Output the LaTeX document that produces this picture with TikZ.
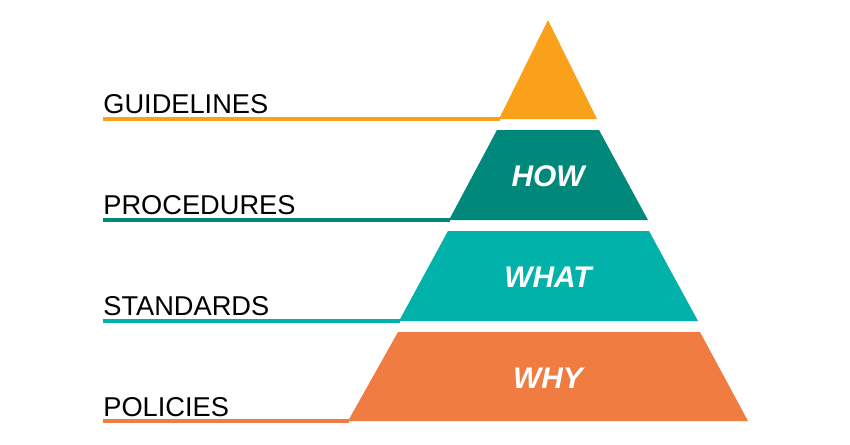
\documentclass[tikz,border=0pt]{standalone}
\usepackage{fontspec}
\setmainfont{Liberation Sans}
\usetikzlibrary{positioning}
\definecolor{cguide}{HTML}{F9A11B}
\definecolor{cproc}{HTML}{00897B}
\definecolor{cstand}{HTML}{00B2A9}
\definecolor{cpol}{HTML}{F07C41}

\begin{document}
\begin{tikzpicture}[x=0.02cm,y=-0.02cm]
\tikzset{lbl/.style={anchor=base west,inner sep=0pt,font=\fontsize{15.5}{18}\selectfont}}
\tikzset{word/.style={text=white,font=\fontsize{17}{20}\selectfont\bfseries\itshape}}
\tikzset{rule/.style={line width=2.2pt}}
    \useasboundingbox (0,0) rectangle (850,444);
    % pyramid levels
    \fill[cguide] (548,20) -- (597,119) -- (499,119) -- cycle;
    \fill[cproc] (497,130) -- (599,130) -- (648,220) -- (449,220) -- cycle;
    \fill[cstand] (448,231) -- (649,231) -- (698,321) -- (399,321) -- cycle;
    \fill[cpol] (398,332) -- (700,332) -- (748,421) -- (348,421) -- cycle;
    \node[word] (how) at (548,176) {HOW};
    \node[word] (what) at (548,277) {WHAT};
    \node[word] (why) at (548,378) {WHY};
    % labels and lines
    \node[lbl] (guide) at (103,113) {GUIDELINES};
    \node[lbl] (proc) at (103,214) {PROCEDURES};
    \node[lbl] (stand) at (103,315) {STANDARDS};
    \node[lbl] (pol) at (103,416) {POLICIES};
    \coordinate (g1) at (103,119); \coordinate (g2) at (500,119);
    \coordinate (p1) at (103,220); \coordinate (p2) at (450,220);
    \coordinate (s1) at (103,321); \coordinate (s2) at (400,321);
    \coordinate (o1) at (103,421); \coordinate (o2) at (349,421);
    \draw[rule,cguide] (g1) -- (g2);
    \draw[rule,cproc] (p1) -- (p2);
    \draw[rule,cstand] (s1) -- (s2);
    \draw[rule,cpol] (o1) -- (o2);
\end{tikzpicture}
\end{document}
